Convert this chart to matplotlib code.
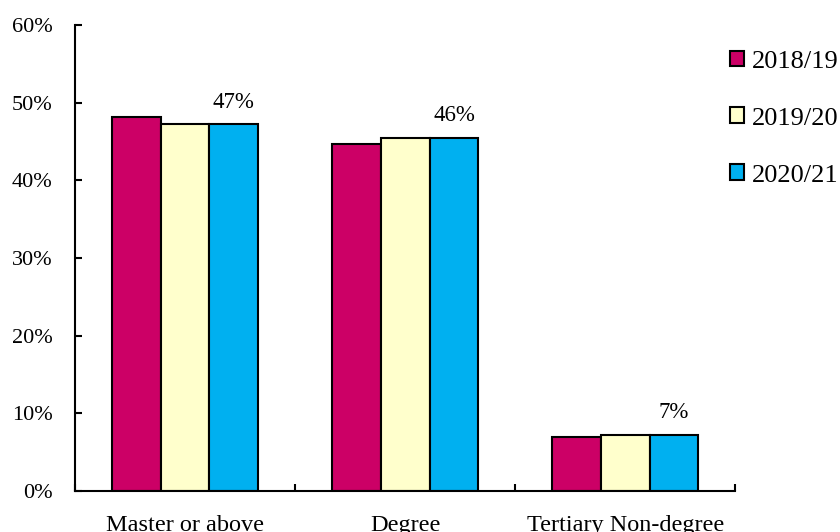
import numpy as np
from matplotlib import pyplot
from matplotlib.ticker import FixedLocator, PercentFormatter

FONT_NAME = 'Liberation Serif'

categories = ['Master or above', 'Degree', 'Tertiary Non-degree']
years = ['2018/19', '2019/20', '2020/21']
shares = {
    '2018/19': [48.2, 44.7, 7.0],
    '2019/20': [47.3, 45.5, 7.2],
    '2020/21': [47.2, 45.5, 7.2],
}
colors = ['#CC0066', '#FFFFCC', '#00B0F0']

pyplot.rcParams['font.family'] = FONT_NAME

figure = pyplot.figure(figsize=(8.4, 5.32), dpi=100)
axes = figure.add_axes([0.0893, 0.0771, 0.786, 0.876])

x = np.arange(len(categories))
width = 0.222
for i, year in enumerate(years):
    axes.bar(x + (i - 1) * width, shares[year], width, color=colors[i],
             edgecolor='black', linewidth=1.5, label=year)

# 最新年度の値だけ棒の上に表示
latest = shares[years[-1]]
for xi, v in zip(x, latest):
    axes.annotate(f'{v:.0f}%', (xi + width, v), xytext=(0, 16),
                  textcoords='offset points', ha='center', va='center', fontsize=16.5)

axes.set_xlim(-0.5, len(categories) - 0.5)
axes.set_ylim(0, 60)
axes.yaxis.set_major_formatter(PercentFormatter(decimals=0))
axes.set_yticks(np.arange(0, 61, 10))

axes.xaxis.set_major_locator(FixedLocator(np.arange(len(categories) + 1) - 0.5))
axes.xaxis.set_minor_locator(FixedLocator(x))
axes.set_xticklabels([])
axes.set_xticklabels(categories, minor=True)
axes.tick_params(axis='x', which='major', direction='in', length=5, width=1.5)
axes.tick_params(axis='x', which='minor', length=0, pad=17, labelsize=17.5)
axes.tick_params(axis='y', direction='in', length=5, width=1.5, pad=16, labelsize=16)

for side in ('top', 'right'):
    axes.spines[side].set_visible(False)
for side in ('left', 'bottom'):
    axes.spines[side].set_linewidth(1.5)

axes.legend(loc='upper left', bbox_to_anchor=(0.869, 0.905), bbox_transform=figure.transFigure,
            frameon=False, fontsize=19, handlelength=0.53, handleheight=0.53, handletextpad=0.3,
            labelspacing=1.32, borderaxespad=0, borderpad=0)

pyplot.savefig('out.png', dpi=100)
